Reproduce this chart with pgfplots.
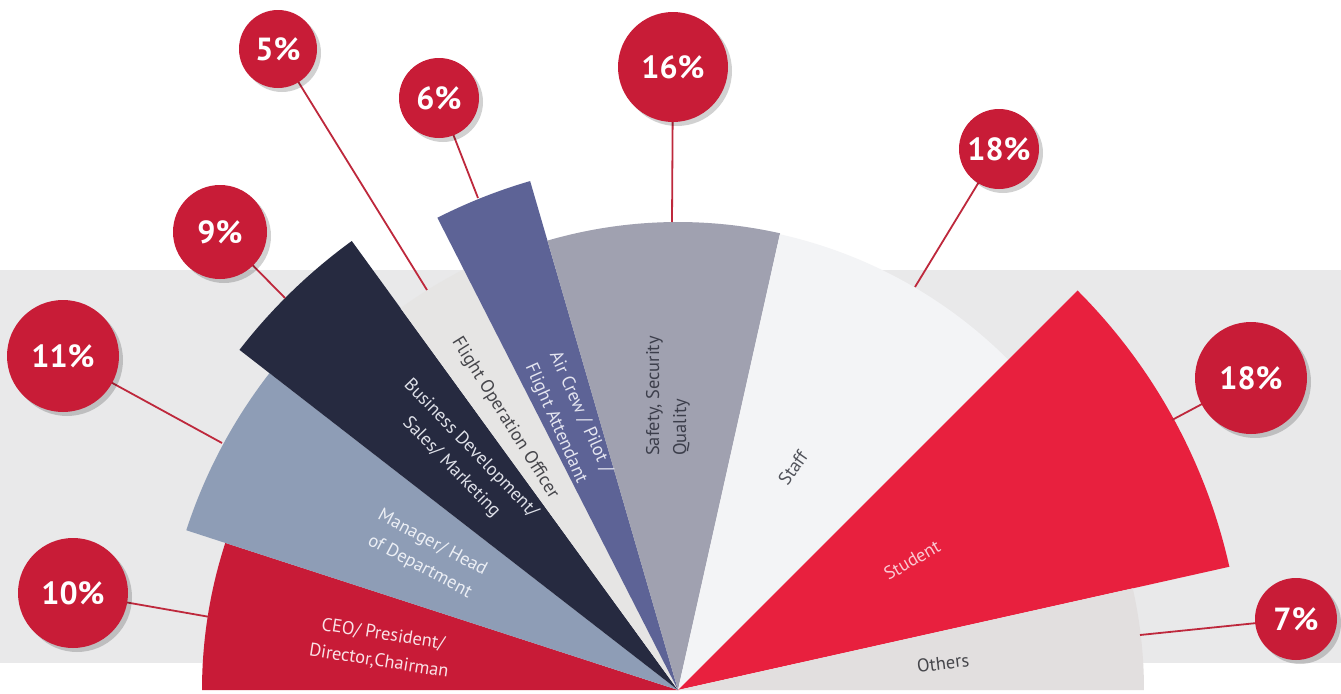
\documentclass[border=0pt]{standalone}
\usepackage{fontspec}
\setmainfont{PT Sans}
\usepackage{pgfplots}
\usepackage{pgfplotstable}
\pgfplotsset{compat=1.18}
\usetikzlibrary{shadows}

\definecolor{c0}{RGB}{200,27,55}
\definecolor{c1}{RGB}{142,157,182}
\definecolor{c2}{RGB}{38,42,64}
\definecolor{c3}{RGB}{230,229,228}
\definecolor{c4}{RGB}{93,99,150}
\definecolor{c5}{RGB}{160,161,176}
\definecolor{c6}{RGB}{243,244,246}
\definecolor{c7}{RGB}{232,32,62}
\definecolor{c8}{RGB}{226,223,223}
\definecolor{circ}{RGB}{200,28,55}
\definecolor{band}{RGB}{233,233,234}
\definecolor{leader}{RGB}{190,40,60}
\definecolor{t0}{RGB}{250,225,230}
\definecolor{t1}{RGB}{236,239,245}
\definecolor{t2}{RGB}{222,224,232}
\definecolor{t3}{RGB}{70,70,75}
\definecolor{t4}{RGB}{228,229,240}
\definecolor{t5}{RGB}{60,62,75}
\definecolor{t6}{RGB}{80,82,90}
\definecolor{t7}{RGB}{250,200,210}
\definecolor{t8}{RGB}{70,70,75}

% sectors: share (%) and outer radius
\pgfplotstableread{
pct r
10 476
11 517
9 555
5 472
6 530
16 468
18 467
18 565
7 466
}\sectors

% bubbles: centre, radius, value, leader line vector
\pgfplotstableread{
x y r pct u v
-605 97 55 10 137 -24
-615 334 56 11 159 -87
-458 458 47 9 65 -66
-400 641 39 5 149 -241
-239 592 40 6 39 -100
-5 623 55 16 -1 -155
321 541 40 18 -84 -138
573 312 56 18 -79 -42
618 71 41 7 -156 -16
}\bubbles

\begin{document}
\begin{tikzpicture}
\begin{axis}[x=0.5pt, y=0.5pt, xmin=-678, xmax=663, ymin=-3, ymax=690,
  hide axis, clip=false, scale only axis,
  /pgf/number format/assume math mode=true]
\fill[white] (axis cs:-678,-3) rectangle (axis cs:663,690);
\fill[band] (axis cs:-678,27) rectangle (axis cs:663,420);
\gdef\cum{0}
\pgfplotsinvokeforeach{0,...,8}{
  \pgfplotstablegetelem{#1}{pct}\of\sectors \let\p=\pgfplotsretval
  \pgfplotstablegetelem{#1}{r}\of\sectors \let\rr=\pgfplotsretval
  \pgfmathsetmacro\aone{180-1.8*\cum}
  \pgfmathsetmacro\atwo{180-1.8*(\cum+\p)}
  \pgfmathsetmacro\newcum{\cum+\p}
  \xdef\cum{\newcum}
  \pgfmathsetmacro\xs{\rr*cos(\aone)}
  \pgfmathsetmacro\ys{\rr*sin(\aone)}
  \edef\temp{\noexpand\fill[c#1] (axis cs:0,0) -- (axis cs:\xs,\ys)
    arc[start angle=\aone, end angle=\atwo, radius=\rr*0.5pt] -- cycle;}
  \temp
}
% leader lines
\addplot[leader, line width=0.9pt, quiver={u=\thisrow{u}, v=\thisrow{v}}, mark=none]
  table[x=x, y=y] {\bubbles};
% bubbles
\addplot[draw=none, mark=none, point meta=explicit,
  visualization depends on={\thisrow{r}\as\rb},
  nodes near coords={\pgfmathprintnumber[assume math mode=true]{\pgfplotspointmeta}\%},
  every node near coord/.style={anchor=center, circle, fill=circ, text=white,
    inner sep=0pt, minimum size={\rb*1pt},
    drop shadow={shadow xshift=2pt, shadow yshift=-2pt, opacity=0.18, fill=black},
    font=\fontsize{16}{16}\selectfont\bfseries}]
  table[x=x, y=y, meta=pct] {\bubbles};
% category labels
\tikzset{lbl/.style={font=\fontsize{9.2}{13.5}\selectfont, align=center, anchor=center, inner sep=0pt}}
\node[lbl, rotate=-9, text=t0] at (axis cs:-297,42) {CEO/ President/\\Director,Chairman};
\node[lbl, rotate=-28, text=t1] at (axis cs:-252,135) {Manager/ Head\\of Department};
\node[lbl, rotate=-46, text=t2] at (axis cs:-217,232) {Business Development/\\Sales/ Marketing};
\node[lbl, rotate=-58, text=t3] at (axis cs:-173,272) {Flight Operation Officer};
\node[lbl, rotate=-66, text=t4] at (axis cs:-110,272) {Air Crew / Pilot /\\Flight Attendant};
\node[lbl, rotate=90, align=left, text=t5] at (axis cs:-10,294) {Safety, Security\\Quality};
\node[lbl, rotate=55, text=t6] at (axis cs:115,222) {Staff};
\node[lbl, rotate=30, text=t7] at (axis cs:234,130) {Student};
\node[lbl, rotate=7, text=t8] at (axis cs:265,27) {Others};
\end{axis}
\pgfresetboundingbox
\path[use as bounding box] (current axis.south west) rectangle (current axis.north east);
\end{tikzpicture}
\end{document}
